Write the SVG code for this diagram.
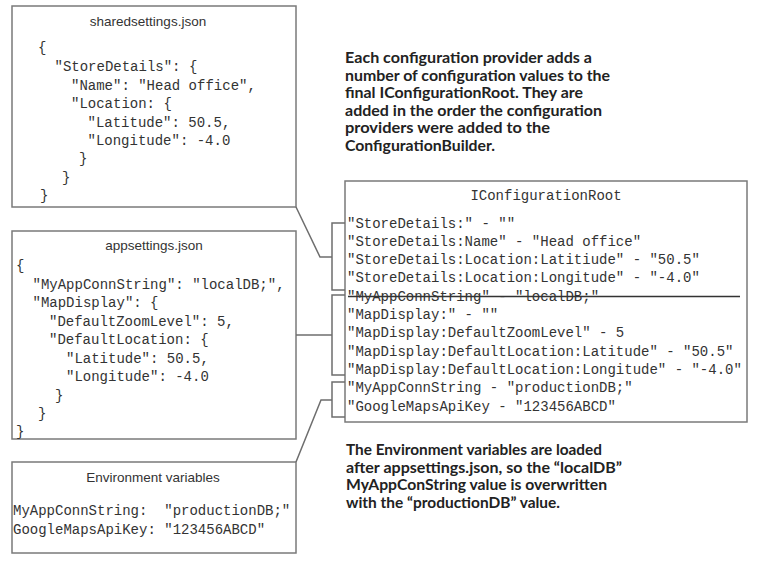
<svg xmlns="http://www.w3.org/2000/svg" width="765" height="562" viewBox="0 0 765 562">
<style>
.box{fill:#fff;stroke:#7a7a7a;stroke-width:1.5}
.ttl{font-family:"Liberation Sans",Arial,sans-serif;font-size:13.5px;fill:#333;text-anchor:middle}
.code{font-family:"Liberation Mono","Courier New",monospace;font-size:14px;fill:#333;white-space:pre}
.note{font-family:Lato,"Liberation Sans",sans-serif;font-weight:bold;font-size:15px;fill:#222}
.con{fill:none;stroke:#6e6e6e;stroke-width:1.5}
</style>
<rect width="765" height="562" fill="#fff"/>

<g id="sharedsettings">
<rect class="box" x="12" y="6" width="284" height="201"/>
<text class="ttl" x="148" y="26">sharedsettings.json</text>
<text class="code" x="38" y="52">{</text>
<text class="code" x="54.5" y="70.5">"StoreDetails": {</text>
<text class="code" x="71" y="89.5">"Name": "Head office",</text>
<text class="code" x="71" y="107.5">"Location: {</text>
<text class="code" x="87.5" y="126.5">"Latitude": 50.5,</text>
<text class="code" x="87.5" y="144.5">"Longitude": -4.0</text>
<text class="code" x="79" y="162.5">}</text>
<text class="code" x="62" y="181.5">}</text>
<text class="code" x="40" y="199.5">}</text>
</g>

<g id="appsettings">
<rect class="box" x="12" y="231" width="284" height="208"/>
<text class="ttl" x="154" y="250">appsettings.json</text>
<text class="code" x="16" y="269.5">{</text>
<text class="code" x="32.5" y="288.5">"MyAppConnString": "localDB;",</text>
<text class="code" x="32.5" y="306.5">"MapDisplay": {</text>
<text class="code" x="49" y="325.5">"DefaultZoomLevel": 5,</text>
<text class="code" x="49" y="343.5">"DefaultLocation: {</text>
<text class="code" x="66" y="362.5">"Latitude": 50.5,</text>
<text class="code" x="66" y="380.5">"Longitude": -4.0</text>
<text class="code" x="55" y="399.5">}</text>
<text class="code" x="38" y="417.5">}</text>
<text class="code" x="16" y="436">}</text>
</g>

<g id="environment">
<rect class="box" x="12" y="462" width="284" height="91"/>
<text class="ttl" x="153" y="482">Environment variables</text>
<text class="code" x="13" y="514.5" xml:space="preserve">MyAppConnString:  "productionDB;"</text>
<text class="code" x="13" y="534" xml:space="preserve">GoogleMapsApiKey: "123456ABCD"</text>
</g>

<g id="configroot">
<rect class="box" x="345" y="181" width="402" height="241"/>
<text class="code" x="546" y="199.5" text-anchor="middle">IConfigurationRoot</text>
<text class="code" x="347" y="227.5">"StoreDetails:" - ""</text>
<text class="code" x="347" y="245.8">"StoreDetails:Name" - "Head office"</text>
<text class="code" x="347" y="264.1">"StoreDetails:Location:Latitiude" - "50.5"</text>
<text class="code" x="347" y="282.4">"StoreDetails:Location:Longitude" - "-4.0"</text>
<text class="code" x="347" y="300.7">"MyAppConnString" - "localDB;"</text>
<line x1="348" y1="296.5" x2="740" y2="296.5" stroke="#333" stroke-width="1.3"/>
<text class="code" x="347" y="319">"MapDisplay:" - ""</text>
<text class="code" x="347" y="337.3">"MapDisplay:DefaultZoomLevel" - 5</text>
<text class="code" x="347" y="355.6">"MapDisplay:DefaultLocation:Latitude" - "50.5"</text>
<text class="code" x="347" y="373.9">"MapDisplay:DefaultLocation:Longitude" - "-4.0"</text>
<text class="code" x="347" y="392.2">"MyAppConnString - "productionDB;"</text>
<text class="code" x="347" y="410.5">"GoogleMapsApiKey - "123456ABCD"</text>
</g>

<g id="note-top">
<text class="note" x="345" y="63" textLength="247" lengthAdjust="spacingAndGlyphs">Each configuration provider adds a</text>
<text class="note" x="345" y="80.5" textLength="265" lengthAdjust="spacingAndGlyphs">number of configuration values to the</text>
<text class="note" x="345" y="98" textLength="238" lengthAdjust="spacingAndGlyphs">final IConfigurationRoot. They are</text>
<text class="note" x="345" y="115.5" textLength="257" lengthAdjust="spacingAndGlyphs">added in the order the configuration</text>
<text class="note" x="345" y="133" textLength="205" lengthAdjust="spacingAndGlyphs">providers were added to the</text>
<text class="note" x="345" y="150.5" textLength="150" lengthAdjust="spacingAndGlyphs">ConfigurationBuilder.</text>
</g>

<g id="note-bottom">
<text class="note" x="346" y="455" textLength="256" lengthAdjust="spacingAndGlyphs">The Environment variables are loaded</text>
<text class="note" x="346" y="472.5" textLength="276" lengthAdjust="spacingAndGlyphs">after appsettings.json, so the “localDB”</text>
<text class="note" x="346" y="490" textLength="261" lengthAdjust="spacingAndGlyphs">MyAppConString value is overwritten</text>
<text class="note" x="346" y="507.5" textLength="214" lengthAdjust="spacingAndGlyphs">with the “productionDB” value.</text>
</g>

<g id="connectors">
<polyline class="con" points="296,207 320,257 332,257"/>
<polyline class="con" points="345,223 332,223 332,290 345,290"/>
<line class="con" x1="296" y1="335" x2="332" y2="335"/>
<polyline class="con" points="345,295 332,295 332,375 345,375"/>
<polyline class="con" points="296,462 321,400 332,400"/>
<polyline class="con" points="345,382 332,382 332,417 345,417"/>
</g>
</svg>
